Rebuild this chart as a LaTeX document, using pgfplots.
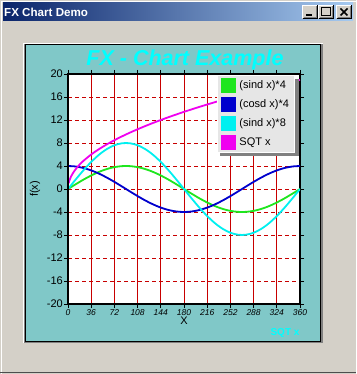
\documentclass[border=0pt]{standalone}
\usepackage{pgfplots}
\pgfplotsset{compat=1.18}
\usepackage{fontspec}
\setmainfont{Liberation Sans}
\definecolor{wingray}{RGB}{212,208,200}
\definecolor{windark}{RGB}{128,128,128}
\definecolor{panelteal}{RGB}{128,200,200}
\definecolor{tbdark}{RGB}{10,36,106}
\definecolor{tblight}{RGB}{166,202,240}
\definecolor{gridred}{RGB}{200,0,0}
\definecolor{cgreen}{RGB}{30,230,30}
\definecolor{cblue}{RGB}{0,0,205}
\definecolor{ccyan}{RGB}{0,240,240}
\definecolor{cmag}{RGB}{240,0,240}
\definecolor{legbg}{RGB}{230,230,230}
\definecolor{titlecyan}{RGB}{0,255,255}

\pgfplotstableread{
x s4 c4 s8
0 0 4 0
12 0.832 3.912 1.663
24 1.627 3.654 3.254
36 2.351 3.236 4.702
48 2.972 2.677 5.945
60 3.464 2.000 6.928
72 3.804 1.236 7.608
84 3.978 0.418 7.956
96 3.978 -0.418 7.956
108 3.804 -1.236 7.608
120 3.464 -2.000 6.928
132 2.972 -2.677 5.945
144 2.351 -3.236 4.702
156 1.627 -3.654 3.254
168 0.832 -3.912 1.663
180 0 -4 0
192 -0.832 -3.912 -1.663
204 -1.627 -3.654 -3.254
216 -2.351 -3.236 -4.702
228 -2.972 -2.677 -5.945
240 -3.464 -2.000 -6.928
252 -3.804 -1.236 -7.608
264 -3.978 -0.418 -7.956
276 -3.978 0.418 -7.956
288 -3.804 1.236 -7.608
300 -3.464 2.000 -6.928
312 -2.972 2.677 -5.945
324 -2.351 3.236 -4.702
336 -1.627 3.654 -3.254
348 -0.832 3.912 -1.663
360 0 4 0
}\trig

\pgfplotstableread{
x y
1 1.000
2 1.414
4 2.000
8 2.828
12 3.464
18 4.243
24 4.899
36 6.000
48 6.928
60 7.746
72 8.485
84 9.165
96 9.798
108 10.392
120 10.954
132 11.489
144 12.000
156 12.490
168 12.961
180 13.416
192 13.856
204 14.283
216 14.697
228 15.100
240 15.492
252 15.875
264 16.248
276 16.613
288 16.971
300 17.321
312 17.664
324 18.000
336 18.330
348 18.655
360 18.974
}\sqt

\begin{document}
\begin{tikzpicture}[x=1pt,y=1pt]
% window background
\path[use as bounding box] (0,0) rectangle (356,374);
\fill[wingray] (0,0) rectangle (356,374);
\draw[white,line width=1pt] (1.5,0) -- (1.5,372.5) -- (356,372.5);
\draw[windark!60!black,line width=1.2pt] (0,1.2) -- (356,1.2);
% title bar
\shade[left color=tbdark,right color=tblight] (3,353) rectangle (353,371);
\node[anchor=west,text=white,font=\bfseries\fontsize{11.6}{13}\selectfont,inner sep=0pt] at (4,362) {FX Chart Demo};
% buttons
\foreach \bx in {302,318,336}{
  \fill[wingray] (\bx,355) rectangle (\bx+16,369);
  \draw[white] (\bx+0.5,355.5) -- (\bx+0.5,368.5) -- (\bx+15.5,368.5);
  \draw[black] (\bx+0.5,355.5) -- (\bx+15.5,355.5) -- (\bx+15.5,368.5);
  \draw[windark] (\bx+1.5,356.5) -- (\bx+14.5,356.5) -- (\bx+14.5,367.5);
}
\fill[black] (306,358) rectangle (312,360);
\draw[black,line width=0.8pt] (321.5,358.5) rectangle (330.5,366.5);
\draw[black,line width=1.6pt] (340.5,358.5) -- (347.5,365.5) (340.5,365.5) -- (347.5,358.5);
% panel
\fill[white] (23,31) rectangle (323,331);
\fill[windark] (24,31) rectangle (323,330);
\fill[panelteal] (25,32) rectangle (321,330);
\draw[black,line width=1pt] (25.5,32.5) rectangle (320.5,329.5);
% chart title
\node[text=titlecyan,font=\bfseries\itshape\fontsize{21.5}{24}\selectfont,inner sep=0pt] at (185,314) {FX - Chart Example};
% SQT x
\node[text=titlecyan,font=\bfseries\fontsize{10}{12}\selectfont,inner sep=0pt] at (285,41) {SQT x};
\begin{axis}[
  at={(68pt,70pt)}, anchor=south west,
  scale only axis, width=232pt, height=230pt,
  xmin=0, xmax=360, ymin=-20, ymax=20,
  xtick={0,36,...,360}, ytick={-20,-16,...,20},
  axis background/.style={fill=white},
  axis line style={black,line width=1.2pt},
  xmajorgrids, ymajorgrids,
  x grid style={gridred,line width=0.8pt},
  y grid style={gridred,line width=0.8pt,dash pattern=on 4pt off 3pt},
  tick align=outside, major tick length=4pt,
  tick style={black,line width=0.8pt},
  /pgf/number format/assume math mode=true,
  yticklabel style={font=\fontsize{11}{13}\selectfont,inner sep=1pt},
  xticklabel style={font=\itshape\fontsize{8.5}{10}\selectfont,inner sep=1pt},
  xlabel={X}, ylabel={f(x)},
  xlabel style={at={(axis description cs:0.5,-0.074)},anchor=center,font=\fontsize{11}{13}\selectfont},
  ylabel style={at={(axis description cs:-0.142,0.5)},anchor=center,font=\fontsize{11}{13}\selectfont},
  legend cell align=left,
  legend image code/.code={\fill[#1] (0pt,-6.5pt) rectangle (13pt,6.5pt);},
  legend style={at={(0.642,0.995)},anchor=north west,fill=legbg,draw=white,
    font=\fontsize{11}{13}\selectfont,row sep=4pt,column sep=2.5pt,inner xsep=4pt,inner ysep=3pt,
    nodes={inner sep=1pt}},
  after end axis/.code={
    \draw[black,line width=2pt] (rel axis cs:0,1) -- (rel axis cs:0,0) -- (rel axis cs:1,0);
    \fill[windark] (axis description cs:0.655,0.978) rectangle (axis description cs:0.995,0.643);
  },
]
\addplot[cgreen,line width=1.8pt,smooth] table[x=x,y=s4] {\trig};
\addlegendentry{(sind x)*4}
\addplot[cblue,line width=1.8pt,smooth] table[x=x,y=c4] {\trig};
\addlegendentry{(cosd x)*4}
\addplot[ccyan,line width=1.8pt,smooth] table[x=x,y=s8] {\trig};
\addlegendentry{(sind x)*8}
\addplot[cmag,line width=1.8pt,smooth] table[x=x,y=y] {\sqt};
\addlegendentry{SQT x}
\end{axis}
\end{tikzpicture}
\end{document}
